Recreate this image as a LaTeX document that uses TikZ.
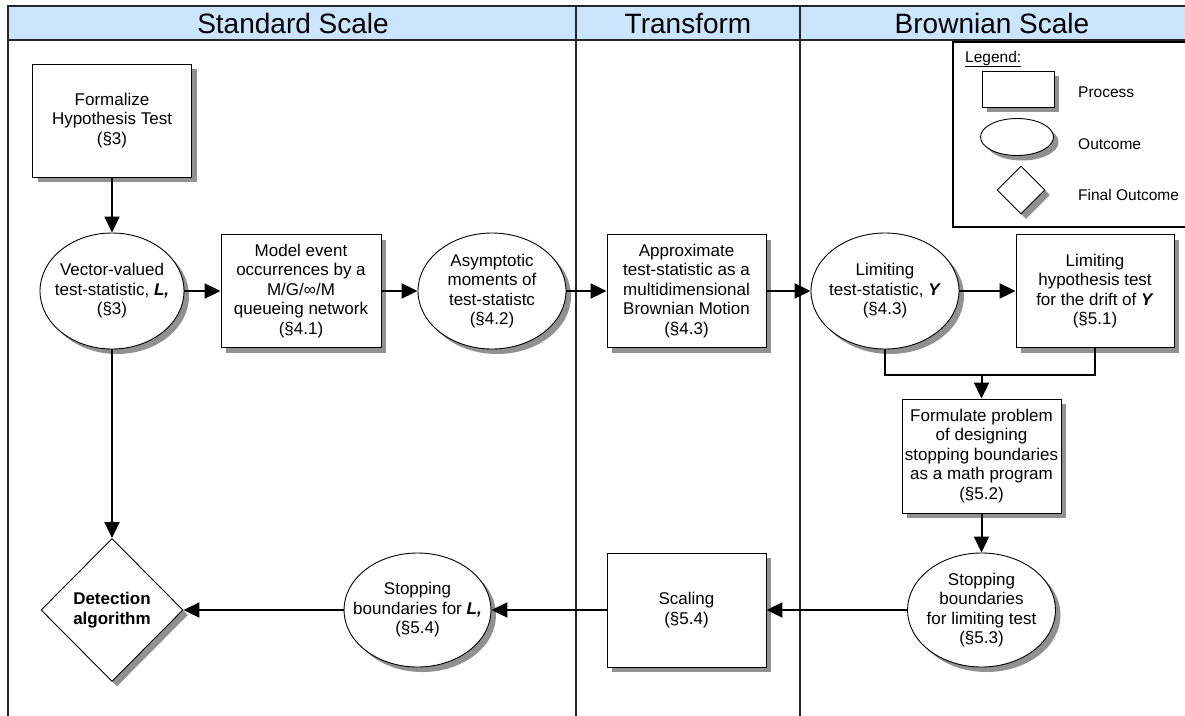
\documentclass[tikz,border=0pt]{standalone}
\usepackage{fontspec}
\setmainfont{Liberation Sans}
\usetikzlibrary{shapes.geometric,arrows.meta,shadows}
\definecolor{lanefill}{RGB}{204,229,255}
\definecolor{shadowgray}{RGB}{145,145,145}

\tikzset{
  every node/.style={font=\fontsize{17}{19.5}\selectfont, align=center, inner sep=0pt},
  castshadow/.style={drop shadow={shadow xshift=5pt, shadow yshift=-5pt, fill=shadowgray, opacity=1}},
  procbox/.style={rectangle, draw, line width=0.9pt, fill=white, castshadow},
  outcome/.style={ellipse, draw, line width=0.9pt, fill=white, castshadow},
  finalbox/.style={diamond, draw, line width=0.9pt, fill=white, castshadow},
  flowarrow/.style={line width=2pt, -{Triangle[length=16pt,width=15pt]}},
  flowline/.style={line width=2pt},
  lane/.style={line width=1.2pt, draw=black!85},
  lanetitle/.style={font=\fontsize{28}{30}\selectfont},
  legendtext/.style={font=\fontsize{15.5}{17}\selectfont, anchor=west},
}

\begin{document}
\begin{tikzpicture}[x=1pt,y=-1pt]
\useasboundingbox (0,0) rectangle (1185,715);

% swimlane header and separators
\draw[lane, fill=lanefill] (8,6) rectangle (1195,40);
\draw[lane] (8,6) -- (8,720);
\draw[lane] (576,6) -- (576,720);
\draw[lane] (800,6) -- (800,720);
\node[lanetitle] (hstd) at (293,23.5) {Standard Scale};
\node[lanetitle] (htrans) at (688,23.5) {Transform};
\node[lanetitle] (hbrown) at (992,23.5) {Brownian Scale};

% legend
\draw[line width=1.1pt] (953,42) rectangle (1195,227);
\node[legendtext, anchor=base west] (legtitle) at (965,62) {\underline{Legend:}};
\node[procbox, minimum width=72pt, minimum height=36pt] (legproc) at (1018,89) {};
\node[outcome, minimum width=73pt, minimum height=37pt] (legout) at (1017,137) {};
\node[finalbox, minimum width=48pt, minimum height=48pt] (legfin) at (1021,190) {};
\node[legendtext] (legproct) at (1078,92) {Process};
\node[legendtext] (legoutt) at (1078,144) {Outcome};
\node[legendtext] (legfint) at (1078,195) {Final Outcome};

% standard scale
\node[procbox, minimum width=159pt, minimum height=113pt] (formalize) at (112,120.5)
  {Formalize\\Hypothesis Test\\(§3)};
\node[outcome, minimum width=144pt, minimum height=116pt,
  label={center:{Vector-valued\\test-statistic, \textbf{\textit{L,}}\\(§3)}}] (vec) at (112,291) {};
\node[procbox, minimum width=160pt, minimum height=113pt] (model) at (301,291)
  {Model event\\occurrences by a\\M/G/∞/M\\queueing network\\(§4.1)};
\node[outcome, minimum width=148pt, minimum height=116pt,
  label={center:{Asymptotic\\moments of\\test-statistc\\(§4.2)}}] (asym) at (492,291) {};

% transform
\node[procbox, minimum width=159pt, minimum height=113pt] (approx) at (686.5,291)
  {Approximate\\test-statistic as a\\multidimensional\\Brownian Motion\\(§4.3)};

% brownian scale
\node[outcome, minimum width=148pt, minimum height=116pt,
  label={center:{Limiting\\test-statistic, \textbf{\textit{Y}}\\(§4.3)}}] (limy) at (885,291) {};
\node[procbox, minimum width=158pt, minimum height=113pt] (limhyp) at (1095,291)
  {Limiting\\hypothesis test\\for the drift of \textbf{\textit{Y}}\\(§5.1)};
\node[procbox, minimum width=159pt, minimum height=114pt] (formulate) at (981.5,456)
  {Formulate problem\\of designing\\stopping boundaries\\as a math program\\(§5.2)};
\node[outcome, minimum width=148pt, minimum height=114pt,
  label={center:{Stopping\\boundaries\\for limiting test\\(§5.3)}}] (stoplim) at (981.5,610) {};

% bottom row back towards the detection algorithm
\node[procbox, minimum width=159pt, minimum height=114pt] (scaling) at (686.5,610)
  {Scaling\\(§5.4)};
\node[outcome, minimum width=147pt, minimum height=114pt,
  label={center:{Stopping\\boundaries for \textbf{\textit{L,}}\\(§5.4)}}] (stopl) at (417.5,610) {};
\node[finalbox, minimum width=142pt, minimum height=143pt] (detect) at (112,610)
  {\textbf{Detection}\\\textbf{algorithm}};

% connectors
\coordinate (jn) at (981.5,375);
\draw[flowarrow] (formalize.south) -- (vec.north);
\draw[flowarrow] (vec.east) -- (model.west);
\draw[flowarrow] (model.east) -- (asym.west);
\draw[flowarrow] (asym.east) -- (approx.west);
\draw[flowarrow] (approx.east) -- (limy.west);
\draw[flowarrow] (limy.east) -- (limhyp.west);
\draw[flowline] (limy.south) |- (limhyp.south |- jn) -- (limhyp.south);
\draw[flowarrow] (jn) -- (formulate.north);
\draw[flowarrow] (formulate.south) -- (stoplim.north);
\draw[flowarrow] (stoplim.west) -- (scaling.east);
\draw[flowarrow] (scaling.west) -- (stopl.east);
\draw[flowarrow] (stopl.west) -- (detect.east);
\draw[flowarrow] (vec.south) -- (detect.north);
\end{tikzpicture}
\end{document}
